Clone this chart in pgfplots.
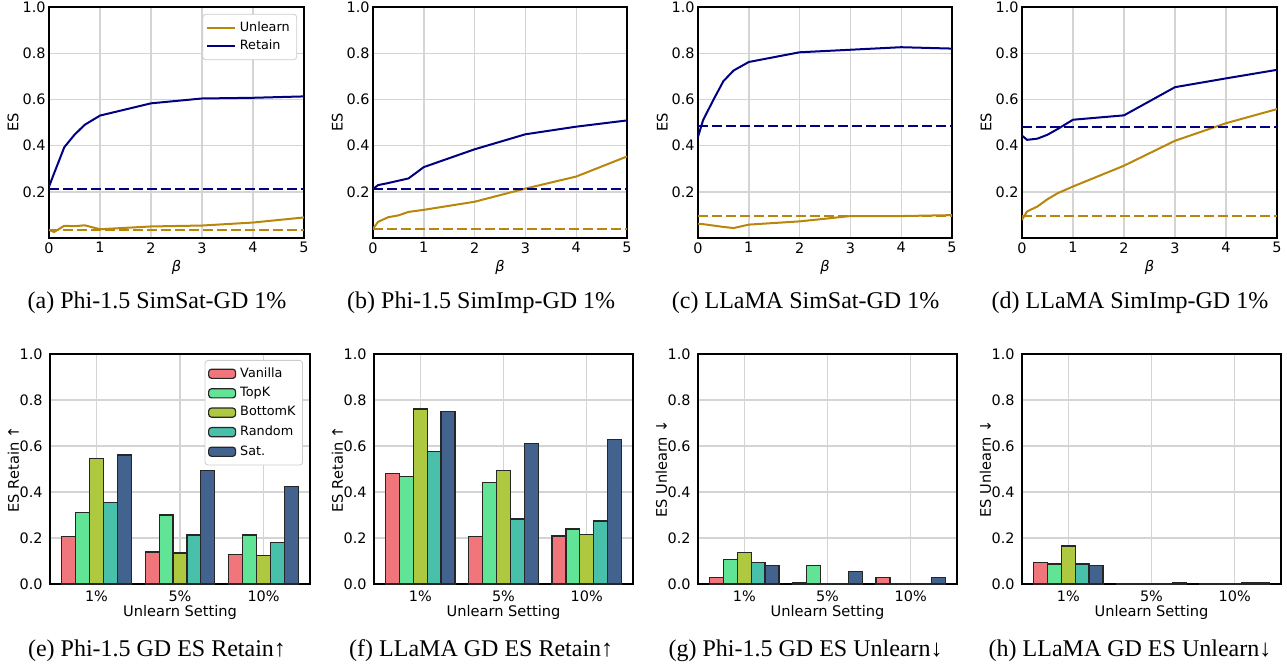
\documentclass[border=0pt]{standalone}
\usepackage{pgfplots}
\pgfplotsset{compat=1.18}
\usepackage{pgfplotstable}
\usepackage{fontspec}
\setmainfont{Liberation Serif}
\newfontfamily\dv{DejaVu Sans}

\definecolor{cUn}{HTML}{B8860B}
\definecolor{cRe}{HTML}{000080}
\definecolor{cV}{HTML}{F0767B}
\definecolor{cT}{HTML}{62E497}
\definecolor{cB}{HTML}{AEC93F}
\definecolor{cR}{HTML}{48C0AA}
\definecolor{cS}{HTML}{42638E}

\pgfplotstableread{
x V T B R S
0 0.207 0.312 0.544 0.356 0.561
1 0.139 0.300 0.135 0.213 0.494
2 0.130 0.213 0.123 0.181 0.424
}\tabE
\pgfplotstableread{
x V T B R S
0 0.481 0.469 0.761 0.577 0.749
1 0.205 0.440 0.493 0.283 0.611
2 0.209 0.239 0.215 0.274 0.630
}\tabF
\pgfplotstableread{
x V T B R S
0 0.030 0.106 0.136 0.092 0.079
1 0.004 0.081 0.003 0.002 0.055
2 0.030 0.002 0.002 0.002 0.030
}\tabG
\pgfplotstableread{
x V T B R S
0 0.092 0.087 0.165 0.087 0.082
1 0.003 0.003 0.003 0.003 0.008
2 0.003 0.003 0.003 0.005 0.005
}\tabH

\pgfplotsset{
  common/.style={
    scale only axis, anchor=north west,
    ymin=0, ymax=1,
    axis line style={line width=1.1pt, black},
    grid=major,
    major grid style={line width=0.7pt, black!17},
    major tick length=0pt,
    /pgf/number format/assume math mode=true,
    tick label style={font=\dv\fontsize{7.2}{8}\selectfont},
    label style={font=\dv\fontsize{7.3}{8.5}\selectfont},
    yticklabel style={/pgf/number format/fixed, /pgf/number format/fixed zerofill, /pgf/number format/precision=1},
    ylabel style={at={(axis description cs:-0.141,0.5)}, anchor=center},
    legend cell align=left,
  },
  lineax/.style={common, height=115.5pt,
    xmin=0, xmax=5, xtick={0,1,2,3,4,5}, ytick={0.2,0.4,0.6,0.8,1.0},
    xlabel={\itshape β}, ylabel={ES},
    xlabel style={at={(axis description cs:0.5,-0.126)}, anchor=center},
    xticklabel style={inner sep=1pt, yshift=-1pt},
    yticklabel style={inner sep=1pt, xshift=-0.5pt},
  },
  barax/.style={common, height=115pt,
    xmin=-0.556, xmax=2.556, xtick={0,1,2}, xticklabels={1\%,5\%,10\%},
    ytick={0,0.2,0.4,0.6,0.8,1.0},
    xlabel={Unlearn Setting},
    xlabel style={at={(axis description cs:0.5,-0.124)}, anchor=center},
    xticklabel style={inner sep=1pt, yshift=-2pt},
    yticklabel style={inner sep=1pt, xshift=-2.5pt},
    ybar=0pt, bar width=0.1667,
  },
  rl/.style={cRe, line width=1pt},
  ul/.style={cUn, line width=1pt},
  dsh/.style={dash pattern=on 4.8pt off 2.2pt},
  bb/.style={draw=black!85, line width=0.6pt},
}

\newcommand\bars[1]{%
  \addplot[bb, fill=cV, bar shift=-0.3333] table[x=x,y=V]{#1};
  \addplot[bb, fill=cT, bar shift=-0.1667] table[x=x,y=T]{#1};
  \addplot[bb, fill=cB, bar shift=0] table[x=x,y=B]{#1};
  \addplot[bb, fill=cR, bar shift=0.1667] table[x=x,y=R]{#1};
  \addplot[bb, fill=cS, bar shift=0.3333] table[x=x,y=S]{#1};
}

\begin{document}
\begin{tikzpicture}
\useasboundingbox (0,0) rectangle (643.5pt,-333pt);

% (a)
\begin{axis}[lineax, at={(24.5pt,-3.5pt)}, width=127.5pt,
  legend style={at={(axis description cs:0.973,0.970)}, anchor=north east,
    draw=black!20, rounded corners=1.5pt, fill=white,
    font=\dv\fontsize{6.4}{7.5}\selectfont, inner sep=1.5pt, row sep=-1pt},
  legend image code/.code={\draw[#1] (0pt,0pt) -- (14pt,0pt);}]
\addplot[ul] coordinates {(0,0.035)(0.1,0.026)(0.3,0.053)(0.5,0.051)(0.7,0.055)(1,0.038)(2,0.05)(3,0.054)(4,0.067)(5,0.089)};
\addplot[rl] coordinates {(0,0.222)(0.1,0.28)(0.3,0.393)(0.5,0.447)(0.7,0.49)(1,0.53)(2,0.583)(3,0.604)(4,0.607)(5,0.613)};
\addplot[rl, dsh, forget plot] coordinates {(0,0.21)(5,0.21)};
\addplot[ul, dsh, forget plot] coordinates {(0,0.034)(5,0.034)};
\legend{Unlearn, Retain}
\end{axis}

% (b)
\begin{axis}[lineax, at={(186.5pt,-3.5pt)}, width=127pt]
\addplot[ul] coordinates {(0,0.04)(0.1,0.07)(0.3,0.09)(0.5,0.098)(0.7,0.113)(1,0.122)(2,0.157)(3,0.214)(4,0.266)(5,0.353)};
\addplot[rl] coordinates {(0,0.212)(0.1,0.229)(0.3,0.238)(0.5,0.248)(0.7,0.258)(1,0.307)(2,0.384)(3,0.449)(4,0.482)(5,0.509)};
\addplot[rl, dsh] coordinates {(0,0.21)(5,0.21)};
\addplot[ul, dsh] coordinates {(0,0.037)(5,0.037)};
\end{axis}

% (c)
\begin{axis}[lineax, at={(349pt,-3.5pt)}, width=127pt]
\addplot[ul] coordinates {(0,0.062)(0.1,0.06)(0.3,0.054)(0.5,0.048)(0.7,0.043)(1,0.058)(2,0.072)(3,0.095)(4,0.095)(5,0.099)};
\addplot[rl] coordinates {(0,0.438)(0.1,0.51)(0.3,0.597)(0.5,0.679)(0.7,0.725)(1,0.762)(2,0.804)(3,0.815)(4,0.826)(5,0.82)};
\addplot[rl, dsh] coordinates {(0,0.483)(5,0.483)};
\addplot[ul, dsh] coordinates {(0,0.097)(5,0.097)};
\end{axis}

% (d)
\begin{axis}[lineax, at={(511pt,-3.5pt)}, width=127.5pt]
\addplot[ul] coordinates {(0,0.079)(0.1,0.115)(0.3,0.136)(0.5,0.168)(0.7,0.194)(1,0.223)(2,0.313)(3,0.421)(4,0.497)(5,0.558)};
\addplot[rl] coordinates {(0,0.443)(0.1,0.425)(0.3,0.43)(0.5,0.447)(0.7,0.472)(1,0.512)(2,0.531)(3,0.653)(4,0.691)(5,0.728)};
\addplot[rl, dsh] coordinates {(0,0.482)(5,0.482)};
\addplot[ul, dsh] coordinates {(0,0.095)(5,0.095)};
\end{axis}

% (e)
\begin{axis}[barax, at={(25pt,-177pt)}, width=130pt, ylabel={ES Retain ↑},
  legend style={at={(axis description cs:0.973,0.974)}, anchor=north east,
    draw=black!20, rounded corners=1.5pt, fill=white,
    font=\dv\fontsize{6.4}{7.5}\selectfont, inner sep=1.5pt, row sep=-0.5pt},
  legend image code/.code={\draw[#1] (0pt,-2.3pt) rectangle (13.5pt,2.3pt);}]
\bars{\tabE}
\legend{Vanilla, TopK, BottomK, Random, Sat.}
\end{axis}

% (f)
\begin{axis}[barax, at={(187pt,-177pt)}, width=129.5pt, ylabel={ES Retain ↑}]
\bars{\tabF}
\end{axis}

% (g)
\begin{axis}[barax, at={(349pt,-177pt)}, width=129.5pt, ylabel={ES Unlearn ↓}]
\bars{\tabG}
\end{axis}

% (h)
\begin{axis}[barax, at={(511pt,-177pt)}, width=129.5pt, ylabel={ES Unlearn ↓}]
\bars{\tabH}
\end{axis}

\begin{scope}[every node/.style={font=\fontsize{12}{14}\selectfont, anchor=base, inner sep=0pt}]
\node at (78.5pt,-154pt) {(a) Phi-1.5 SimSat-GD 1\%};
\node at (240.6pt,-154pt) {(b) Phi-1.5 SimImp-GD 1\%};
\node at (402.8pt,-154pt) {(c) LLaMA SimSat-GD 1\%};
\node at (565pt,-154pt) {(d) LLaMA SimImp-GD 1\%};
\node at (78.5pt,-328.3pt) {(e) Phi-1.5 GD ES Retain↑};
\node at (240.6pt,-328.3pt) {(f) LLaMA GD ES Retain↑};
\node at (402.8pt,-328.3pt) {(g) Phi-1.5 GD ES Unlearn↓};
\node at (565pt,-328.3pt) {(h) LLaMA GD ES Unlearn↓};
\end{scope}
\end{tikzpicture}
\end{document}
